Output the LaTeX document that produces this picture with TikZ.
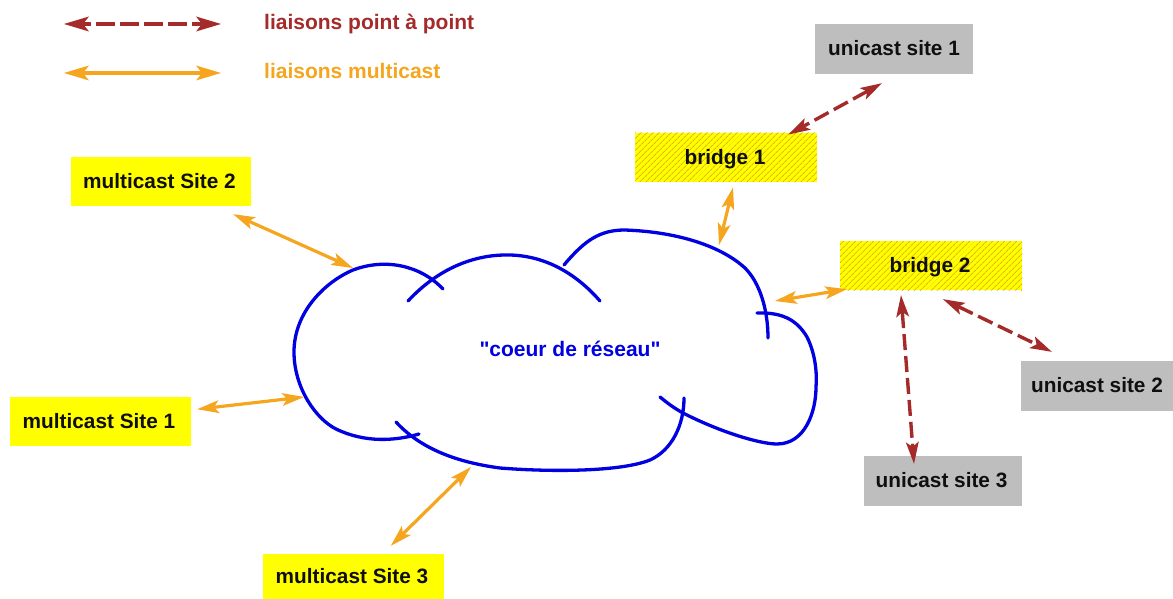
\documentclass[tikz,border=0pt]{standalone}
\usepackage{fontspec}
\setmainfont{Liberation Sans}
\newfontfamily\rawsans{Liberation Sans}
\usetikzlibrary{arrows.meta,patterns.meta}
\definecolor{brn}{RGB}{165,42,42}
\definecolor{org}{RGB}{245,165,30}
\definecolor{cloudblue}{RGB}{0,0,225}
\definecolor{hatch}{RGB}{228,185,0}
\definecolor{yel0}{RGB}{255,255,0}
\definecolor{gry0}{RGB}{190,190,190}
\definecolor{ink}{RGB}{15,15,15}
\tikzset{
  x=1pt,y=-1pt,
  base/.style={font=\bfseries\fontsize{20.8}{24}\selectfont,inner sep=0pt,text=ink,text height=15pt,text depth=1.5pt},
  yel/.style={base,fill=yel0},
  gry/.style={base,fill=gry0},
  brg/.style={base,preaction={fill=yel0},pattern={Lines[angle=45,distance=4pt,line width=1pt]},pattern color=hatch},
  tip/.tip={Stealth[length=22pt,width=13pt,inset=5pt,line width=0pt]},
  bigtip/.tip={Stealth[length=25pt,width=15pt,inset=6pt,line width=0pt]},
  p2p/.style={draw=brn,line width=3.4pt,dash pattern=on 16pt off 6pt,{tip}-{tip}},
  mcast/.style={draw=org,line width=3.2pt,{tip}-{tip}},
  cloud/.style={draw=cloudblue,line width=3.3pt,line cap=round},
  leg/.style={font=\bfseries\fontsize{21}{24}\selectfont,inner sep=0pt,anchor=west,text height=15pt,text depth=2pt},
}
\begin{document}
\begin{tikzpicture}
\useasboundingbox (0,0) rectangle (1173,599);
% boxes
\node[gry,minimum width=158pt,minimum height=50pt] (u1) at (894,49) {unicast site 1};
\node[brg,minimum width=182pt,minimum height=49pt] (b1) at (726,157.5) {\hspace{-2pt}bridge 1};
\node[brg,minimum width=182pt,minimum height=49pt] (b2) at (931,265.5) {\hspace{-2pt}bridge 2};
\node[gry,minimum width=152pt,minimum height=50pt] (u2) at (1097,386) {unicast site 2};
\node[gry,minimum width=158pt,minimum height=50pt] (u3) at (943,481) {\hspace{-3pt}unicast site 3};
\node[yel,minimum width=180pt,minimum height=49pt] (m2) at (161,181.5) {\hspace{-3pt}multicast Site 2};
\node[yel,minimum width=181pt,minimum height=49pt] (m1) at (100.5,421.5) {\hspace{-3pt}multicast Site 1};
\node[yel,minimum width=181pt,minimum height=45pt] (m3) at (353.5,576.5) {\hspace{-3pt}multicast Site 3};
\node[font=\rawsans\bfseries\fontsize{21}{24}\selectfont,text=cloudblue,inner sep=0pt] (core) at (570,349) {"coeur de réseau"};
% legend
\coordinate (l1a) at (64,24); \coordinate (l1b) at (221,24);
\coordinate (l2a) at (64,73); \coordinate (l2b) at (221,73);
\draw[draw=brn,line width=4.8pt,dash pattern=on 19pt off 5pt,dash phase=11pt,{bigtip}-{bigtip}] (l1a) -- (l1b);
\draw[draw=org,line width=3.4pt,{bigtip}-{bigtip}] (l2a) -- (l2b);
\node[leg,text=brn] (t1) at (264,23) {liaisons point à point};
\node[leg,text=org] (t2) at (264,72) {liaisons multicast};
% cloud
\draw[cloud] (419,434) .. controls (395,441) and (365,443) .. (336,429)
  .. controls (316,419) and (294,388) .. (294,352)
  .. controls (294,312) and (325,282) .. (353,270)
  .. controls (385,258) and (420,265) .. (443,289);
\draw[cloud] (408,301) .. controls (435,272) and (470,254) .. (510,255)
  .. controls (550,256) and (580,278) .. (600,301);
\draw[cloud] (564,265) .. controls (585,240) and (600,230) .. (625,230)
  .. controls (680,232) and (722,247) .. (745,268)
  .. controls (760,283) and (768,310) .. (768,338);
\draw[cloud] (757,313) .. controls (785,312) and (798,322) .. (807,337)
  .. controls (816,355) and (817,375) .. (816,387)
  .. controls (816,412) and (805,444) .. (777,444)
  .. controls (760,444) and (720,432) .. (683,413)
  .. controls (672,407) and (665,401) .. (660,397);
\draw[cloud] (684,398) .. controls (684,425) and (672,450) .. (650,460)
  .. controls (620,472) and (550,472) .. (500,468)
  .. controls (455,462) and (420,448) .. (396,422);
% connectors
\coordinate (c2) at (353,268); \coordinate (c1) at (304,397); \coordinate (c3) at (471,467);
\coordinate (cb1) at (719,245); \coordinate (cb2) at (775,301);
\draw[mcast] ([shift={(-18,8)}]m2.south east) -- (c2);
\draw[mcast] ([shift={(6,-37)}]m1.south east) -- (c1);
\draw[mcast] ([shift={(128,-8)}]m3.north west) -- (c3);
\draw[mcast] ([shift={(7,5)}]b1.south) -- (cb1);
\draw[mcast] ([shift={(7,-1)}]b2.south west) -- (cb2);
\draw[p2p] ([shift={(-12,9)}]u1.south) -- ([shift={(-29,2)}]b1.north east);
\draw[p2p] ([shift={(12,9)}]b2.south) -- ([shift={(31,-9)}]u2.north west);
\draw[p2p] ([shift={(-30,5)}]b2.south) -- ([shift={(-29,8)}]u3.north);
\end{tikzpicture}
\end{document}
